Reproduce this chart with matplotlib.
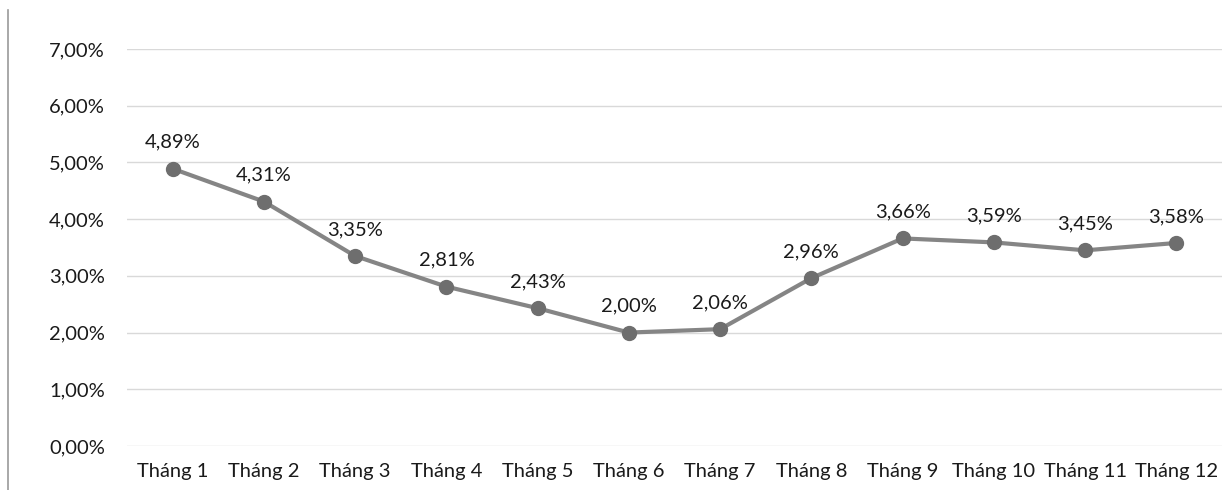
import matplotlib.pyplot as plt
from matplotlib.lines import Line2D
from matplotlib.ticker import FuncFormatter

months = ['Tháng 1', 'Tháng 2', 'Tháng 3', 'Tháng 4', 'Tháng 5', 'Tháng 6',
          'Tháng 7', 'Tháng 8', 'Tháng 9', 'Tháng 10', 'Tháng 11', 'Tháng 12']
rates = [4.89, 4.31, 3.35, 2.81, 2.43, 2.00, 2.06, 2.96, 3.66, 3.59, 3.45, 3.58]
y_ticks = [0, 1, 2, 3, 4, 5, 6, 7]

plt.rcParams['font.family'] = ['Lato', 'DejaVu Sans']

fig = plt.figure(figsize=(12.3, 4.9), dpi=100)
ax = fig.add_axes([127 / 1230, 1 - 446 / 490, (1222 - 127) / 1230, (446 - 49) / 490])

x = list(range(len(months)))
ax.plot(x, rates, color='#858585', linewidth=3, marker='o', markersize=10,
        markerfacecolor='#6e6e6e', markeredgecolor='#6e6e6e', zorder=3)

for xi, v in zip(x, rates):
    ax.annotate(f"{v:.2f}%".replace('.', ','), (xi, v), xytext=(0, 13),
                textcoords='offset points', ha='center', va='bottom',
                fontsize=14.5, color='#1a1a1a')

ax.set_xlim(-0.5, len(months) - 0.5)
ax.set_ylim(0, 7)
ax.set_yticks(y_ticks)
ax.yaxis.set_major_formatter(FuncFormatter(lambda v, p: f"{v:.2f}%".replace('.', ',')))
ax.set_xticks(x)
ax.set_xticklabels(months)
ax.tick_params(axis='both', length=0, labelsize=14.5, colors='#1a1a1a')
ax.tick_params(axis='y', pad=16)
ax.tick_params(axis='x', pad=12)
ax.grid(axis='y', color='#d9d9d9', linewidth=1)
ax.set_axisbelow(True)
for s in ax.spines.values():
    s.set_visible(False)

# thin border on the left edge of the picture
fig.add_artist(Line2D([8 / 1230, 8 / 1230], [0, 1 - 10 / 490], color='#9a9a9a', linewidth=1.2))

fig.savefig('out.png', dpi=100, facecolor='white')
